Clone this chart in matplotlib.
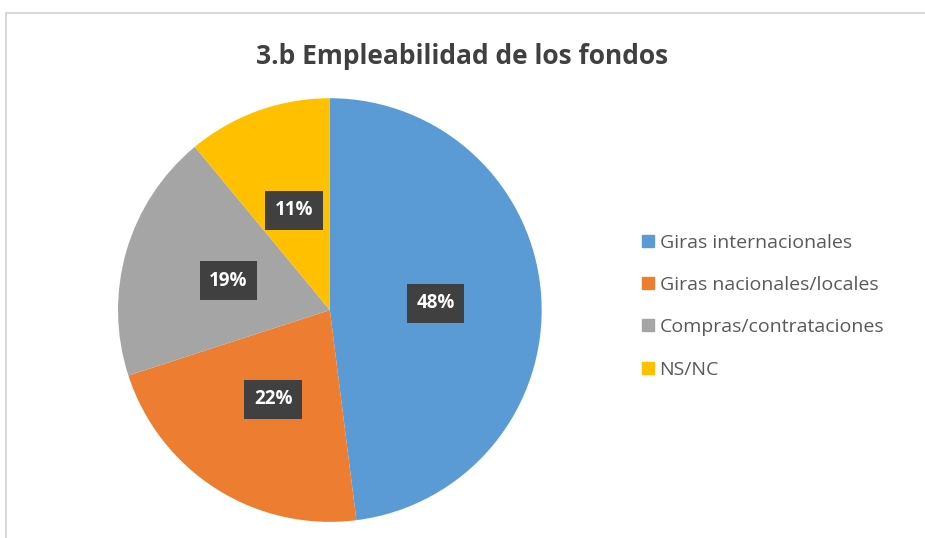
import matplotlib.pyplot as plt
from matplotlib.patches import Rectangle
from matplotlib.lines import Line2D

plt.rcParams['font.family'] = ['Open Sans', 'DejaVu Sans']

categorias = ['Giras internacionales', 'Giras nacionales/locales',
              'Compras/contrataciones', 'NS/NC']
valores = [48, 22, 19, 11]
colores = ['#5B9BD5', '#ED7D31', '#A5A5A5', '#FFC000']

fig = plt.figure(figsize=(9.25, 5.38), dpi=100)

# marco del grafico (solo se ven borde superior e izquierdo)
fig.patches.append(Rectangle((0.007, -0.1), 1.2, 1.075, transform=fig.transFigure,
                             fill=False, edgecolor='#D0D0D0', linewidth=1.2))

ax = fig.add_axes([0.1276, 0.0297, 0.458, 0.788])
wedges, texts, autotexts = ax.pie(valores, colors=colores, startangle=90,
                                  counterclock=False, autopct='%1.0f%%',
                                  pctdistance=0.5,
                                  wedgeprops=dict(linewidth=0))
for t in autotexts:
    t.set_color('white')
    t.set_fontweight('bold')
    t.set_fontsize(13.5)
    t.set_bbox(dict(boxstyle='square,pad=0.5', facecolor='#404040', edgecolor='none'))
ax.set_xlim(-1, 1)
ax.set_ylim(-1, 1)
ax.set_aspect('equal')

fig.text(0.5, 0.895, '3.b Empleabilidad de los fondos', ha='center', va='center',
         fontsize=19, fontweight='bold', color='#404040')

handles = [Line2D([0], [0], marker='s', linestyle='', markersize=9,
                  markerfacecolor=c, markeredgecolor=c) for c in colores]
fig.legend(handles, categorias, loc='center left', bbox_to_anchor=(0.672, 0.431),
           frameon=False, fontsize=14, labelcolor='#595959', handletextpad=0.15,
           labelspacing=1.25, handlelength=0.9)

plt.savefig('out.png', dpi=100)
